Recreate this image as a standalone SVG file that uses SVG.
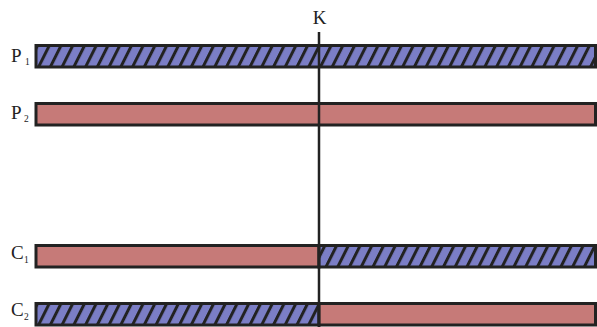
<svg xmlns="http://www.w3.org/2000/svg" width="597" height="327" viewBox="0 0 597 327">
  <style>
    .lbl { font-family: "Liberation Serif", serif; font-size: 19px; fill: #222; }
    .sub { font-family: "Liberation Serif", serif; font-size: 9.5px; fill: #222; }
    .pink { fill: #c67a78; stroke: #222; stroke-width: 3; }
    .hatch { fill: url(#hatch); stroke: #222; stroke-width: 3; }
    .cut { stroke: #222; stroke-width: 2.5; }
  </style>
  <defs>
    <pattern id="hatch" patternUnits="userSpaceOnUse" width="10.5" height="10.5" patternTransform="rotate(26.6)">
      <rect width="10.5" height="10.5" fill="#7b7ec6"/>
      <line x1="1.5" y1="0" x2="1.5" y2="10.5" stroke="#222" stroke-width="3"/>
    </pattern>
  </defs>

  <!-- parent P1 -->
  <g id="P1">
    <rect class="hatch" x="36" y="45.5" width="559.5" height="21.5"/>
    <text class="lbl" x="11" y="62">P</text>
    <text class="sub" x="25" y="65">1</text>
  </g>

  <!-- parent P2 -->
  <g id="P2">
    <rect class="pink" x="36" y="103.5" width="559.5" height="21.5"/>
    <text class="lbl" x="11" y="119">P</text>
    <text class="sub" x="24" y="122">2</text>
  </g>

  <!-- child C1: P2 head, P1 tail -->
  <g id="C1">
    <rect class="pink" x="36" y="245.5" width="283" height="21.5"/>
    <rect class="hatch" x="319" y="245.5" width="276.5" height="21.5"/>
    <text class="lbl" x="11" y="259">C</text>
    <text class="sub" x="24" y="263">1</text>
  </g>

  <!-- child C2: P1 head, P2 tail -->
  <g id="C2">
    <rect class="hatch" x="36" y="303.5" width="283" height="21.5"/>
    <rect class="pink" x="319" y="303.5" width="276.5" height="21.5"/>
    <text class="lbl" x="11" y="316">C</text>
    <text class="sub" x="24" y="320">2</text>
  </g>

  <!-- crossover point -->
  <g id="connectors">
    <line class="cut" x1="319" y1="32" x2="319" y2="327"/>
  </g>
  <g id="K">
    <text class="lbl" x="319.5" y="24" text-anchor="middle">K</text>
  </g>
</svg>
